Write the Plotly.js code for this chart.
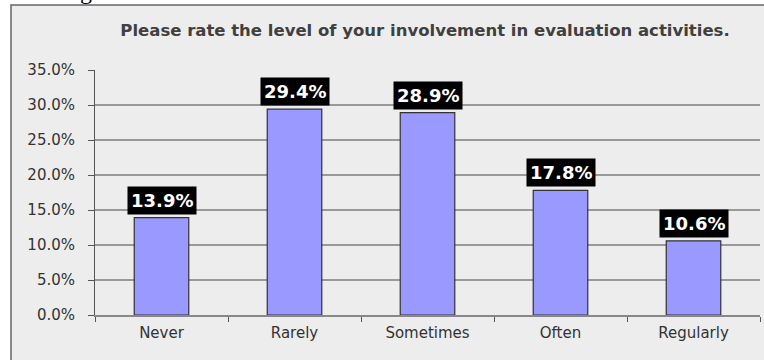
<!DOCTYPE html>
<html>
<head>
<meta charset="utf-8">
<script src="https://cdn.plot.ly/plotly-3.0.1.min.js"></script>
<style>html,body{margin:0;padding:0;background:#fff;}#chart{width:764px;height:360px;}</style>
</head>
<body>
<div id="chart"></div>
<script>
const categories = ["Never", "Rarely", "Sometimes", "Often", "Regularly"];
const percents = [13.9, 29.4, 28.9, 17.8, 10.6];
const labels = ["13.9%", "29.4%", "28.9%", "17.8%", "10.6%"];
const yTicks = [0, 5, 10, 15, 20, 25, 30, 35];
const yTickText = ["0.0%", "5.0%", "10.0%", "15.0%", "20.0%", "25.0%", "30.0%", "35.0%"];
const chartTitle = "Please rate the level of your involvement in evaluation activities.";

const W = 764, H = 360;
const L = 95, R = 4, T = 70, B = 45;
const pw = W - L - R, ph = H - T - B;
const px = v => (v - L) / pw;
const py = v => (H - B - v) / ph;

const font = "DejaVu Sans, Arial, sans-serif";

const trace = {
  type: "bar",
  x: categories,
  y: percents,
  width: 0.41,
  marker: {color: "#9999ff", line: {color: "#333333", width: 1.2}},
  hoverinfo: "skip"
};

const annotations = categories.map((c, i) => ({
  x: c, y: percents[i], xref: "x", yref: "y",
  text: labels[i], showarrow: false,
  xanchor: "center", yanchor: "bottom", yshift: 3,
  bgcolor: "#000000", borderpad: 3,
  font: {family: font, size: 18, color: "#ffffff", weight: "bold"}
}));
annotations.push({
  xref: "paper", yref: "paper", x: px(86), y: py(6), xanchor: "center", yanchor: "bottom",
  text: "g", showarrow: false,
  font: {family: "Liberation Serif, serif", size: 24, color: "#000"}
});

const layout = {
  width: W, height: H,
  margin: {l: L, r: R, t: T, b: B, pad: 0},
  paper_bgcolor: "#ffffff",
  plot_bgcolor: "rgba(0,0,0,0)",
  showlegend: false,
  title: {
    text: "<b>" + chartTitle + "</b>",
    x: 425 / W, xanchor: "center", xref: "container",
    y: 1 - 30 / H, yanchor: "middle", yref: "container",
    font: {family: font, size: 16.5, color: "#404040"}
  },
  xaxis: {
    type: "category",
    tickson: "boundaries",
    ticks: "outside", ticklen: 5, tickcolor: "#555", tickwidth: 1,
    showline: true, linecolor: "#888", linewidth: 1.5,
    showgrid: false, zeroline: false,
    tickfont: {family: font, size: 15, color: "#333"},
    ticklabelstandoff: 3,
    range: [-0.5, 4.5],
    fixedrange: true
  },
  yaxis: {
    range: [0, 35],
    tickvals: yTicks, ticktext: yTickText,
    ticks: "outside", ticklen: 6, tickcolor: "#555", tickwidth: 1,
    showline: true, linecolor: "#555", linewidth: 1,
    showgrid: true, gridcolor: "#999", gridwidth: 1.2,
    zeroline: false,
    tickfont: {family: font, size: 15, color: "#333"},
    ticklabelstandoff: 10,
    fixedrange: true
  },
  shapes: [{
    type: "rect", layer: "below",
    xref: "paper", yref: "paper",
    x0: px(11), x1: px(800), y0: py(400), y1: py(5),
    fillcolor: "#ededed", line: {color: "#666", width: 1.5}
  }],
  annotations: annotations,
  bargap: 0.59
};

Plotly.newPlot("chart", [trace], layout, {displayModeBar: false, staticPlot: true});
</script>
</body>
</html>
